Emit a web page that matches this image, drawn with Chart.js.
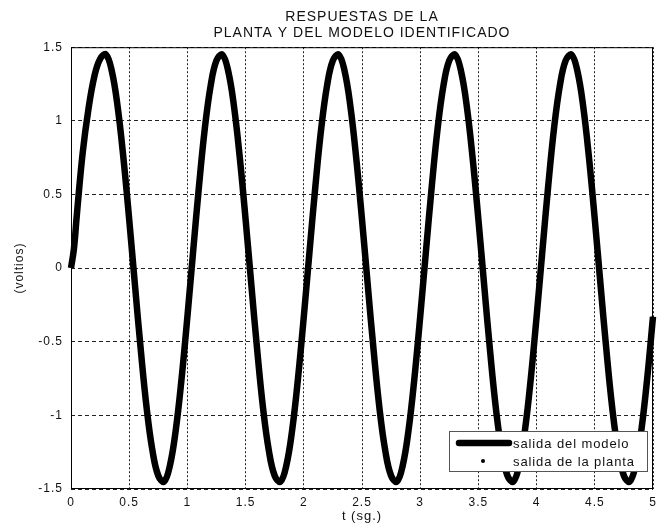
<!DOCTYPE html>
<html>
<head>
<meta charset="utf-8">
<script src="https://cdn.jsdelivr.net/npm/chart.js@4/dist/chart.umd.min.js"></script>
<style>
  body { margin: 0; background: #fff; }
  canvas { display: block; }
</style>
</head>
<body>
<canvas id="respuestaChart" width="663" height="524"></canvas>
<script>
// tiempo (s)
const tiempo = [
  0, 0.025, 0.05, 0.1, 0.15, 0.2, 0.25, 0.3, 0.35, 0.4, 0.45, 0.5, 0.55, 0.6, 0.65, 0.7, 0.75, 0.8, 0.85, 0.9, 0.95,
  1, 1.05, 1.1, 1.15, 1.2, 1.25, 1.3, 1.35, 1.4, 1.45, 1.5, 1.55, 1.6, 1.65, 1.7, 1.75, 1.8, 1.85, 1.9, 1.95,
  2, 2.05, 2.1, 2.15, 2.2, 2.25, 2.3, 2.35, 2.4, 2.45, 2.5, 2.55, 2.6, 2.65, 2.7, 2.75, 2.8, 2.85, 2.9, 2.95,
  3, 3.05, 3.1, 3.15, 3.2, 3.25, 3.3, 3.35, 3.4, 3.45, 3.5, 3.55, 3.6, 3.65, 3.7, 3.75, 3.8, 3.85, 3.9, 3.95,
  4, 4.05, 4.1, 4.15, 4.2, 4.25, 4.3, 4.35, 4.4, 4.45, 4.5, 4.55, 4.6, 4.65, 4.7, 4.75, 4.8, 4.85, 4.9, 4.95,
  5
];
// salida del modelo (voltios)
const salidaModelo = [
  0, 0.13, 0.36, 0.78, 1.08, 1.30, 1.42, 1.45, 1.34, 1.10, 0.75, 0.33, -0.12, -0.56, -0.95, -1.24, -1.41, -1.45, -1.34, -1.10, -0.75,
  -0.33, 0.12, 0.56, 0.95, 1.24, 1.41, 1.45, 1.34, 1.10, 0.75, 0.33, -0.12, -0.56, -0.95, -1.24, -1.41, -1.45, -1.34, -1.10, -0.75,
  -0.33, 0.12, 0.56, 0.95, 1.24, 1.41, 1.45, 1.34, 1.10, 0.75, 0.33, -0.12, -0.56, -0.95, -1.24, -1.41, -1.45, -1.34, -1.10, -0.75,
  -0.33, 0.12, 0.56, 0.95, 1.24, 1.41, 1.45, 1.34, 1.10, 0.75, 0.33, -0.12, -0.56, -0.95, -1.24, -1.41, -1.45, -1.34, -1.10, -0.75,
  -0.33, 0.12, 0.56, 0.95, 1.24, 1.41, 1.45, 1.34, 1.10, 0.75, 0.33, -0.12, -0.56, -0.95, -1.24, -1.41, -1.45, -1.34, -1.10, -0.75,
  -0.33
];
// salida de la planta: hidden under the model line in the picture
const salidaPlanta = [
  0, 0.13, 0.36, 0.78, 1.08, 1.30, 1.42, 1.45, 1.34, 1.10, 0.75, 0.33, -0.12, -0.56, -0.95, -1.24, -1.41, -1.45, -1.34, -1.10, -0.75,
  -0.33, 0.12, 0.56, 0.95, 1.24, 1.41, 1.45, 1.34, 1.10, 0.75, 0.33, -0.12, -0.56, -0.95, -1.24, -1.41, -1.45, -1.34, -1.10, -0.75,
  -0.33, 0.12, 0.56, 0.95, 1.24, 1.41, 1.45, 1.34, 1.10, 0.75, 0.33, -0.12, -0.56, -0.95, -1.24, -1.41, -1.45, -1.34, -1.10, -0.75,
  -0.33, 0.12, 0.56, 0.95, 1.24, 1.41, 1.45, 1.34, 1.10, 0.75, 0.33, -0.12, -0.56, -0.95, -1.24, -1.41, -1.45, -1.34, -1.10, -0.75,
  -0.33, 0.12, 0.56, 0.95, 1.24, 1.41, 1.45, 1.34, 1.10, 0.75, 0.33, -0.12, -0.56, -0.95, -1.24, -1.41, -1.45, -1.34, -1.10, -0.75,
  -0.33
];
const xTicks = ['0', '0.5', '1', '1.5', '2', '2.5', '3', '3.5', '4', '4.5', '5'];
const yTicks = ['-1.5', '-1', '-0.5', '0', '0.5', '1', '1.5'];

const FONT = '"Liberation Sans", Arial, sans-serif';

function toPoints(xs, ys) {
    return xs.map((x, i) => ({ x: x, y: ys[i] }));
}

// box around the plot area, MATLAB style
const axesBox = {
    id: 'axesBox',
    beforeDraw(chart) {
        chart.ctx.letterSpacing = '1px';
    },
    beforeDatasetsDraw(chart) {
        const a = chart.chartArea;
        const ctx = chart.ctx;
        ctx.save();
        ctx.strokeStyle = '#000';
        ctx.lineWidth = 1;
        ctx.strokeRect(a.left + 0.5, a.top + 0.5, a.right - a.left - 1, a.bottom - a.top - 1);
        ctx.restore();
    }
};

// legend in the lower right corner of the plot
const cornerLegend = {
    id: 'cornerLegend',
    afterDatasetsDraw(chart) {
        const a = chart.chartArea;
        const ctx = chart.ctx;
        const w = 198, h = 40;
        const x0 = a.right - 6 - w;
        const y0 = a.bottom - 18 - h;
        ctx.save();
        ctx.fillStyle = '#fff';
        ctx.fillRect(x0, y0, w, h);
        ctx.strokeStyle = '#555';
        ctx.lineWidth = 1;
        ctx.strokeRect(x0 + 0.5, y0 + 0.5, w, h);

        const ds = chart.data.datasets;
        const row1 = y0 + 12, row2 = y0 + 30;
        ctx.strokeStyle = ds[0].borderColor;
        ctx.lineWidth = ds[0].borderWidth;
        ctx.lineCap = 'round';
        ctx.beginPath();
        ctx.moveTo(x0 + 10, row1);
        ctx.lineTo(x0 + 60, row1);
        ctx.stroke();

        ctx.fillStyle = ds[1].pointBackgroundColor;
        ctx.beginPath();
        ctx.arc(x0 + 34, row2, 2, 0, Math.PI * 2);
        ctx.fill();

        ctx.letterSpacing = '0.9px';
        ctx.fillStyle = '#111';
        ctx.font = '13px ' + FONT;
        ctx.textBaseline = 'middle';
        ctx.textAlign = 'left';
        ctx.fillText(ds[0].label, x0 + 64, row1 + 1);
        ctx.fillText(ds[1].label, x0 + 64, row2 + 1);
        ctx.restore();
    }
};

new Chart(document.getElementById('respuestaChart').getContext('2d'), {
    type: 'line',
    data: {
        datasets: [{
            label: 'salida del modelo',
            data: toPoints(tiempo, salidaModelo),
            borderColor: '#000',
            borderWidth: 6.5,
            pointRadius: 0,
            tension: 0.4,
            fill: false,
            clip: false,
            order: 1
        }, {
            label: 'salida de la planta',
            data: toPoints(tiempo, salidaPlanta),
            showLine: false,
            pointRadius: 1.5,
            pointBackgroundColor: '#000',
            pointBorderWidth: 0,
            order: 2
        }]
    },
    options: {
        responsive: false,
        animation: false,
        layout: { padding: { left: 0, right: 10, top: 0, bottom: 0 } },
        plugins: {
            legend: { display: false },
            tooltip: { enabled: false },
            title: {
                display: true,
                fullSize: false,
                text: ['RESPUESTAS DE LA', 'PLANTA Y DEL MODELO IDENTIFICADO'],
                color: '#111',
                font: { family: FONT, size: 14, weight: 'normal', lineHeight: 1.15 },
                padding: { top: 9, bottom: 6 }
            }
        },
        scales: {
            x: {
                type: 'linear',
                min: 0,
                max: 5,
                afterFit(scale) { scale.height = 35; },
                ticks: {
                    stepSize: 0.5,
                    autoSkip: false,
                    maxRotation: 0,
                    padding: 6,
                    color: '#111',
                    font: { family: FONT, size: 12 },
                    callback: (v, i) => xTicks[i]
                },
                grid: { color: '#222', lineWidth: 1, drawTicks: false },
                border: { display: false, dash: [2, 2] },
                title: {
                    display: true,
                    text: 't (sg.)',
                    color: '#111',
                    font: { family: FONT, size: 13 },
                    padding: { top: 0, bottom: 0 }
                }
            },
            y: {
                min: -1.5,
                max: 1.5,
                afterFit(scale) { scale.width = 71; },
                ticks: {
                    stepSize: 0.5,
                    padding: 8,
                    color: '#111',
                    font: { family: FONT, size: 12 },
                    callback: (v, i) => yTicks[i]
                },
                grid: { color: '#222', lineWidth: 1, drawTicks: false },
                border: { display: false, dash: [4, 3] },
                title: {
                    display: true,
                    text: '(voltios)',
                    color: '#111',
                    font: { family: FONT, size: 12 },
                    padding: { top: 12, bottom: 0 }
                }
            }
        }
    },
    plugins: [axesBox, cornerLegend]
});
</script>
</body>
</html>
